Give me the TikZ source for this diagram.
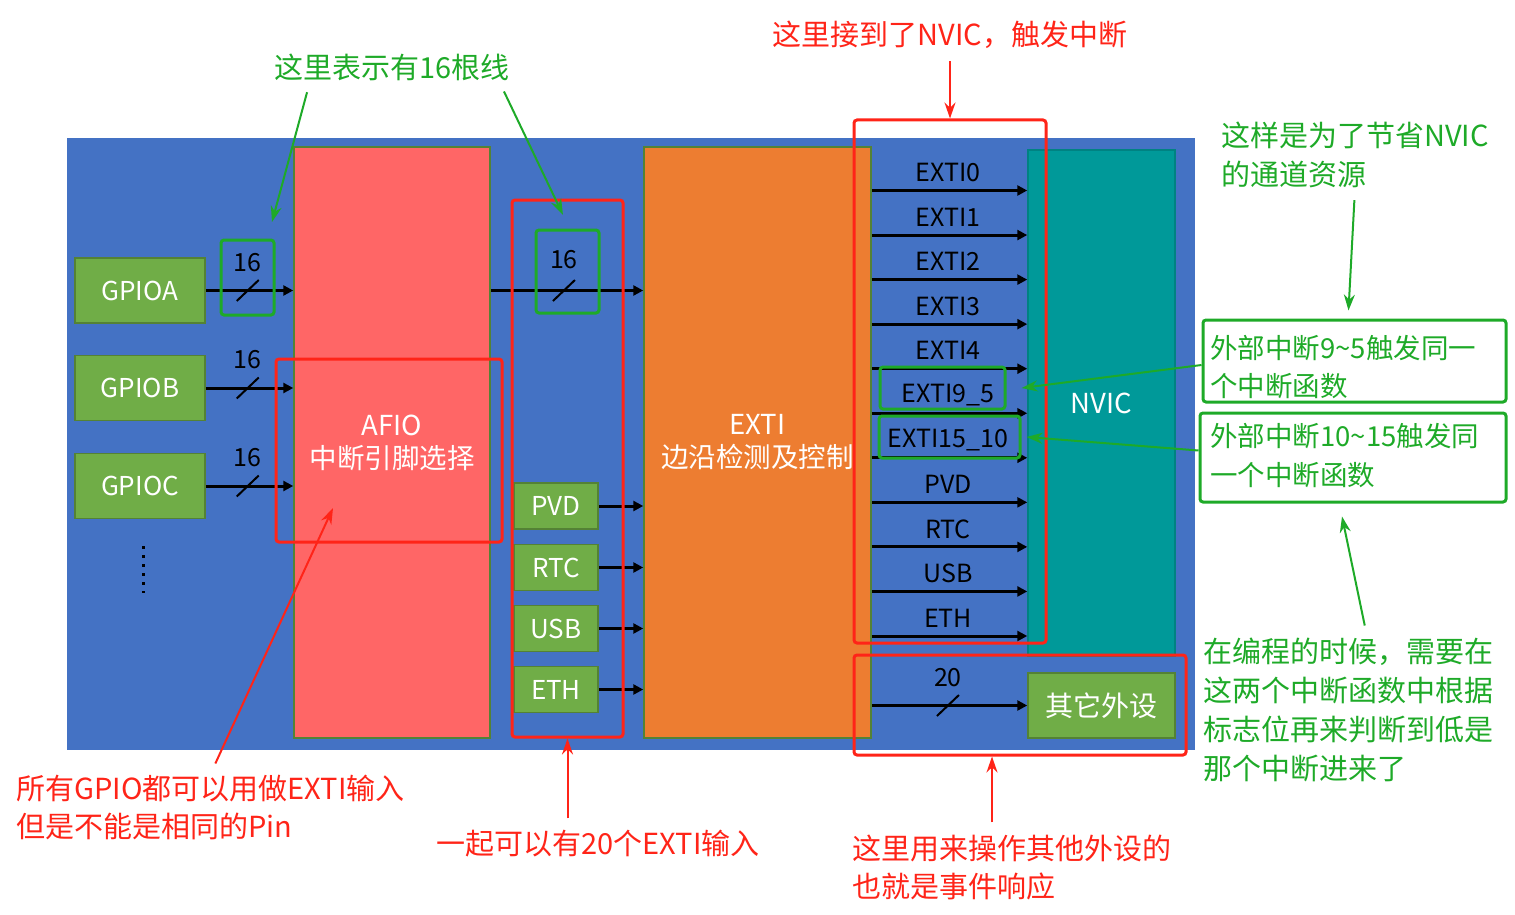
\documentclass[tikz,border=0pt]{standalone}
\usepackage{fontspec}
\setmainfont{Noto Sans CJK SC}
\usepackage{xcolor}
\usetikzlibrary{arrows.meta}
\definecolor{bgblue}{RGB}{68,114,196}
\definecolor{afred}{RGB}{255,102,102}
\definecolor{exorange}{RGB}{237,125,49}
\definecolor{nvteal}{RGB}{0,153,153}
\definecolor{pgreen}{RGB}{112,173,71}
\definecolor{pgreenb}{RGB}{84,130,53}
\definecolor{mgreen}{RGB}{30,170,40}
\definecolor{mred}{RGB}{255,36,24}
\newcommand{\sz}[2]{\fontsize{#1}{#2}\selectfont}

\begin{document}
\begin{tikzpicture}[x=1pt,y=-1pt,
 blk/.style={draw=pgreenb,line width=1.5pt,inner sep=0pt,align=center,text=white,font=\sz{27.5}{33}},
 per/.style={draw=pgreenb,line width=1.5pt,fill=pgreen,inner sep=0pt,text=white,font=\sz{26}{26}},
 lab/.style={font=\sz{25}{25},inner sep=0pt},
 sig/.style={line width=3pt,-{Triangle[length=10pt,width=10pt]}},
 bar/.style={line width=2pt},
 rfr/.style={draw=mred,line width=3pt,rounded corners=3pt,inner sep=0pt},
 gfr/.style={draw=mgreen,line width=3pt,rounded corners=3pt,inner sep=0pt},
 rnote/.style={text=mred,font=\sz{29}{38},align=left,inner sep=0pt},
 gnote/.style={text=mgreen,font=\sz{29}{39},align=left,inner sep=0pt},
 rarr/.style={draw=mred,line width=2pt,shorten <=12pt,-{Stealth[length=16pt,width=11pt]}},
 garr/.style={draw=mgreen,line width=2pt,shorten <=12pt,-{Stealth[length=16pt,width=11pt]}}]
 \useasboundingbox (0,0) rectangle (1515,915);
 % blocks
 \node[fill=bgblue,inner sep=0pt,minimum width=1128pt,minimum height=612pt] (bg) at (631,444) {};
 \node[blk,fill=afred,minimum width=196pt,minimum height=591pt] (afio) at (392,442.5) {AFIO\\中断引脚选择};
 \node[blk,fill=exorange,minimum width=227pt,minimum height=591pt] (exti) at (757.5,442.5) {EXTI\\边沿检测及控制};
 \node[blk,fill=nvteal,draw=nvteal!85!black,minimum width=147pt,minimum height=506pt] (nvic) at (1101.5,403) {NVIC};
 \node[per,minimum width=130pt,minimum height=65pt] (gpioa) at (140,290.5) {GPIOA};
 \node[per,minimum width=130pt,minimum height=65pt] (gpiob) at (140,388) {GPIOB};
 \node[per,minimum width=130pt,minimum height=65pt] (gpioc) at (140,486) {GPIOC};
 \node[per,minimum width=84pt,minimum height=46pt] (pvd) at (556,506) {PVD};
 \node[per,minimum width=84pt,minimum height=46pt] (rtc) at (556,567.5) {RTC};
 \node[per,minimum width=84pt,minimum height=46pt] (usb) at (556,628.5) {USB};
 \node[per,minimum width=84pt,minimum height=46pt] (eth) at (556,689.5) {ETH};
 \node[per,font=\sz{28}{28},minimum width=147pt,minimum height=65pt] (other) at (1101.5,705.5) {其它外设};
 \draw[line width=3pt,dash pattern=on 3pt off 6pt] ([xshift=3pt,yshift=-27pt]gpioc.south) -- ++(0,47);

 % 16-line buses
 \draw[sig] (gpioa.east) -- coordinate[pos=.48](ba) (gpioa.east -| afio.west);
 \draw[bar] (ba) ++(-11,10.5) -- ++(22,-21);
 \node[lab] (la) at ([yshift=28pt]ba) {16};
 \draw[sig] (gpiob.east) -- coordinate[pos=.48](bb) (gpiob.east -| afio.west);
 \draw[bar] (bb) ++(-11,10.5) -- ++(22,-21);
 \node[lab] (lb) at ([yshift=28pt]bb) {16};
 \draw[sig] (gpioc.east) -- coordinate[pos=.48](bc) (gpioc.east -| afio.west);
 \draw[bar] (bc) ++(-11,10.5) -- ++(22,-21);
 \node[lab] (lc) at ([yshift=28pt]bc) {16};
 \draw[sig] (gpioa.east -| afio.east) -- coordinate[pos=.48](bd) (gpioa.east -| exti.west);
 \draw[bar] (bd) ++(-11,10.5) -- ++(22,-21);
 \node[lab] (ld) at ([yshift=31pt]bd) {16};
 \foreach \p in {pvd,rtc,usb,eth}
  \draw[sig] (\p.east) -- (\p.east -| exti.west);

 % EXTI lines to NVIC
 \foreach \lab [count=\i from 0] in {EXTI0,EXTI1,EXTI2,EXTI3,EXTI4,EXTI9\_5,EXTI15\_10,PVD,RTC,USB,ETH}{
  \coordinate (o\i) at (872,{190.5+44.55*\i});
  \draw[sig] (o\i -| exti.east) -- (o\i -| nvic.west);
  \node[lab] (ol\i) at (948,{172.5+44.55*\i}) {\lab};
 }
 \draw[sig] (other.west -| exti.east) -- coordinate[pos=.49](bo) (other.west);
 \draw[bar] (bo) ++(-11,10.5) -- ++(22,-21);
 \node[lab] (lo) at ([yshift=28pt]bo) {20};

 % highlight frames
 \node[gfr,minimum width=53pt,minimum height=75pt] (f16a) at (247.5,277.5) {};
 \node[gfr,minimum width=63pt,minimum height=83pt] (f16b) at (567.5,271.5) {};
 \node[gfr,minimum width=125pt,minimum height=42pt] (fe95) at (942.5,388) {};
 \node[gfr,minimum width=141pt,minimum height=42pt] (fe1510) at (949.5,437) {};
 \node[rfr,minimum width=226pt,minimum height=183pt] (fafio) at (389,450.5) {};
 \node[rfr,minimum width=111pt,minimum height=537pt] (fin) at (567.5,468.5) {};
 \node[rfr,minimum width=192pt,minimum height=523pt] (fout) at (950,381.5) {};
 \node[rfr,minimum width=332pt,minimum height=100pt] (fother) at (1020,705) {};

 % notes
 \node[gnote] (n16) at (392,67) {这里表示有16根线};
 \node[rnote] (nnvic) at (950,35) {这里接到了NVIC，触发中断};
 \node[gnote,anchor=west] (nsave) at (1221,155) {这样是为了节省NVIC\\的通道资源};
 \node[gfr,minimum width=303pt,minimum height=82pt] (n95) at (1354.5,361) {};
 \node[gnote,font=\sz{27.5}{38},anchor=west] (t95) at (1210,367) {外部中断9\textasciitilde5触发同一\\个中断函数};
 \node[gfr,minimum width=306pt,minimum height=89pt] (n1015) at (1353,457.5) {};
 \node[gnote,font=\sz{27.5}{39},anchor=west] (t1015) at (1210,456) {外部中断10\textasciitilde15触发同\\一个中断函数};
 \node[gnote,anchor=west] (nprog) at (1203,709.5) {在编程的时候，需要在\\这两个中断函数中根据\\标志位再来判断到低是\\那个中断进来了};
 \node[rnote,anchor=west] (ngpio) at (16,807) {所有GPIO都可以用做EXTI输入\\但是不能是相同的Pin};
 \node[rnote] (n20) at (598,844) {一起可以有20个EXTI输入};
 \node[rnote,anchor=west] (nev) at (852,867) {这里用来操作其他外设的\\也就是事件响应};

 \coordinate (h16a) at (272,222);
 \coordinate (h16b) at (563,215);
 \coordinate (hgpio) at (333,508);
 \coordinate (pev) at ([xshift=-28pt]fother.south);
 \draw[garr] ([xshift=36pt]n16.south west) -- (h16a);
 \draw[garr] ([xshift=-11pt]n16.south east) -- (h16b);
 \draw[rarr] (nnvic.south) -- (fout.north);
 \draw[garr] (nsave.south) -- ([xshift=-6pt,yshift=8pt]n95.north);
 \draw[garr,shorten <=0pt] ([yshift=-4pt]n95.west) -- ([xshift=15pt]fe95.east);
 \draw[garr,shorten <=0pt] ([yshift=7pt]n1015.west) -- ([xshift=5pt]fe1510.east);
 \draw[garr] ([xshift=19pt]nprog.north) -- ([xshift=-11pt,yshift=-13pt]n1015.south);
 \draw[rarr] (ngpio.north) -- (hgpio);
 \draw[rarr] (fin.south |- n20.north) -- (fin.south);
 \draw[rarr] (pev |- nev.north) -- (pev);
\end{tikzpicture}
\end{document}
